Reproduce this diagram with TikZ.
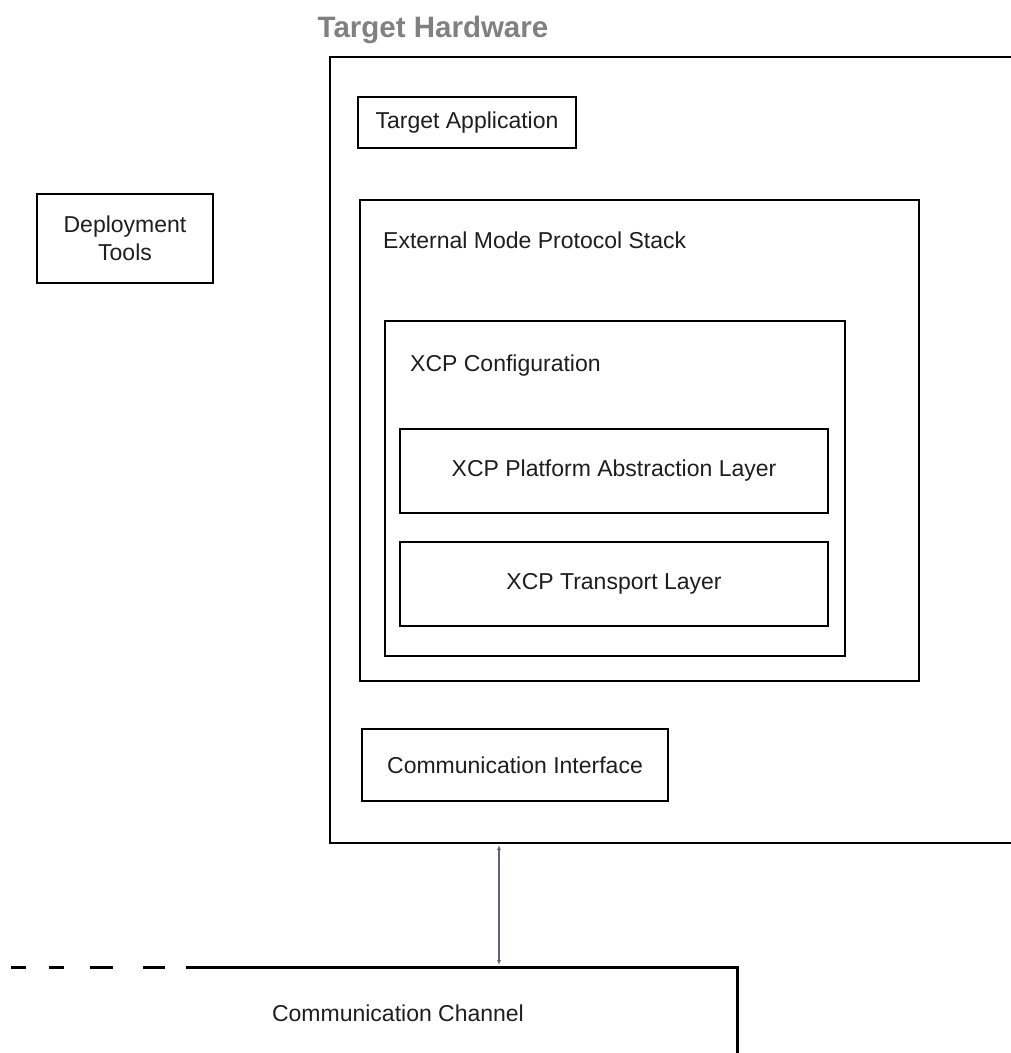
\documentclass[tikz,border=0pt]{standalone}
\usepackage{fontspec}
\setmainfont{Liberation Sans}
\usetikzlibrary{arrows.meta,positioning}
\definecolor{titlegray}{RGB}{128,128,128}
\definecolor{linkgray}{RGB}{92,102,122}
\definecolor{textdark}{RGB}{30,30,30}
\newcommand{\boxfont}{\fontsize{23}{27}\selectfont}

\begin{document}
\begin{tikzpicture}[x=1pt,y=-1pt,
    block/.style={draw,line width=1.6pt,inner sep=0pt,align=center,
      text=textdark,font=\boxfont},
    caption/.style={anchor=west,inner sep=0pt,text=textdark,font=\boxfont},
    link/.style={draw=linkgray,line width=1.4pt,
      {Latex[length=5pt,width=4pt]}-{Latex[length=5pt,width=4pt]}}]

  \clip (0,0) rectangle (1011,1053);

  % Target hardware, open to the right
  \node[font=\bfseries\fontsize{29.5}{34}\selectfont,text=titlegray] (hwtitle) at (433,30) {Target Hardware};
  \draw[line width=1.8pt] (1030,57) -- (330,57) -- (330,843) -- (1030,843);

  \node[block,minimum width=218,minimum height=51] (targetapp) at (467,122.5) {Target Application};
  \node[block,minimum width=176,minimum height=89] (deploy) at (125,238.5) {Deployment\\[1pt]Tools};

  \node[block,minimum width=559,minimum height=481] (protostack) at (639.5,440.5) {};
  \node[caption] (protolabel) at (383,240) {External Mode Protocol Stack};

  \node[block,minimum width=460,minimum height=335] (xcpconf) at (615,488.5) {};
  \node[caption] (xcpconflabel) at (410,366) {XCP Configuration};

  \node[block,minimum width=428,minimum height=84] (xcppal) at (614,471) {XCP Platform Abstraction Layer};
  \node[block,minimum width=428,minimum height=84] (xcptl) at (614,584) {XCP Transport Layer};

  \node[block,minimum width=306,minimum height=72] (commif) at (515,765) {Communication Interface};

  % Communication channel
  \coordinate (hwbottom) at (499,845);
  \coordinate (chtop) at (499,965);
  \draw[link] (hwbottom) -- (chtop);

  \draw[line width=3pt,dash pattern=on 15pt off 23pt on 15pt off 26pt on 23pt off 30pt on 22pt off 21pt]
    (11,967) -- (186,967);
  \draw[line width=3pt] (186,967) -- (737,967) -- (737,1070);
  \node[text=textdark,font=\boxfont] (channel) at (398,1013) {Communication Channel};

\end{tikzpicture}
\end{document}
